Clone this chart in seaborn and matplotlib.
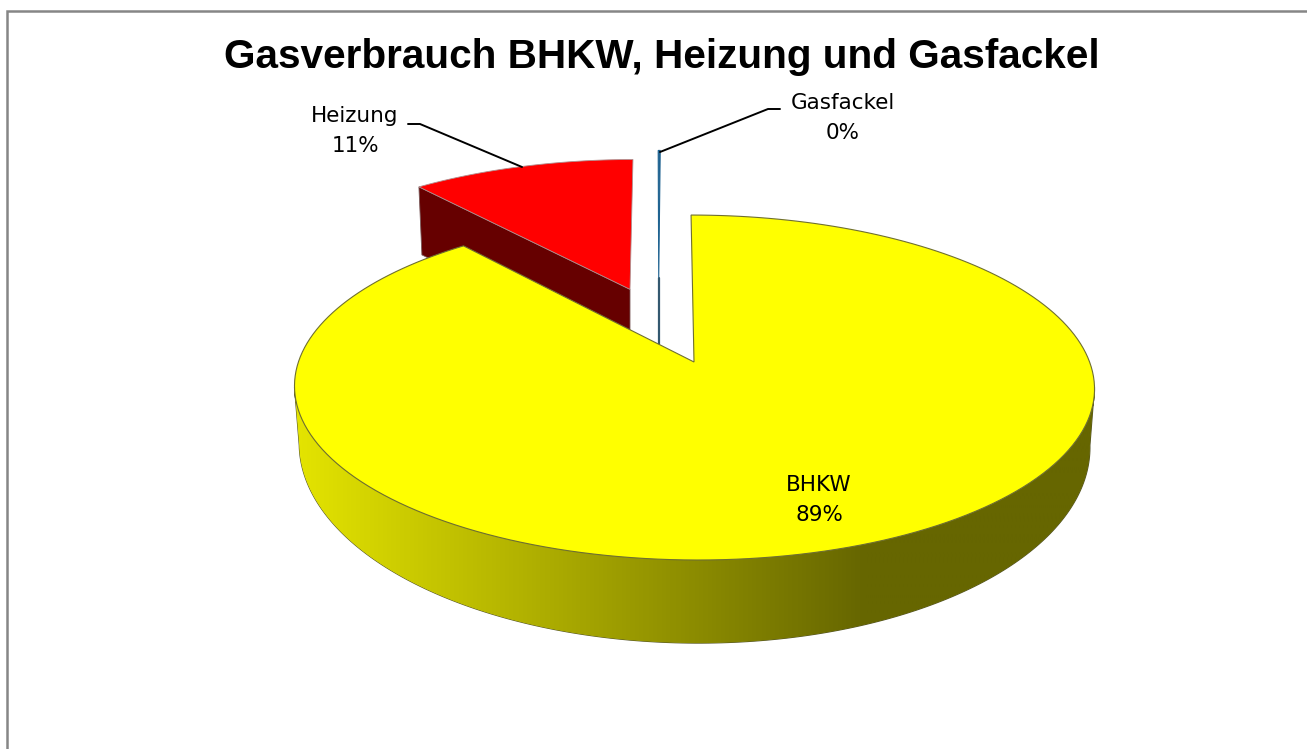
import numpy as np
import seaborn as sns
import matplotlib.pyplot as plt
from matplotlib.colors import LinearSegmentedColormap
from matplotlib.patches import Polygon

# Werte aus dem Bild gelesen
namen = ["BHKW", "Heizung", "Gasfackel"]
anteile = [88.9, 11.0, 0.1]
titel = "Gasverbrauch BHKW, Heizung und Gasfackel"

farben = ["#ffff00", "#ff0000", "#1f6391"]
wand_heizung = "#660000"
wand_fackel = "#33586f"
explode = [0, 0.49, 0.54]
versatz_x = [0, 0, -0.09]  # Gasfackel sitzt im Original weiter links

# Perspektive der Scheibe, alles in Pixeln
k = 0.148
schief = 0.02
oben = dict(cx=694, cy=362, a=395.6, b=168.7)
unten = dict(cx=694, cy=416, a=391, b=193.5)
tiefe_keil = 68


def projiziere(x, y, cx, cy, a, b):
    w = 1 + k * y
    py = cy - b * y / w
    px = cx + a * x / w + schief * (b * -y / w)
    return np.column_stack([px, py])


def bogen(keil, t1, t2, ebene, dx=0.0):
    t = np.radians(np.linspace(t1, t2, 200))
    x = keil.center[0] + dx + keil.r * np.cos(t)
    y = keil.center[1] + keil.r * np.sin(t)
    return projiziere(x, y, **ebene)


def keil_flaeche(keil, ebene, dx=0.0):
    rand = bogen(keil, keil.theta1, keil.theta2, ebene, dx)
    mitte = projiziere(np.array([keil.center[0] + dx]), np.array([keil.center[1]]), **ebene)
    return np.vstack([mitte, rand])


sns.set_theme(style="white")
plt.rcParams["font.family"] = ["DejaVu Sans"]
palette = sns.color_palette(farben)

fig, ax = plt.subplots(figsize=(13.07, 7.49), dpi=100)
fig.subplots_adjust(0, 0, 1, 1)

keile, _ = ax.pie(anteile, explode=explode, startangle=90, counterclock=False, radius=1)
geometrie = [(w.center, w.r, w.theta1, w.theta2) for w in keile]
ax.clear()
ax.set_aspect("auto")
ax.set_xlim(0, 1307)
ax.set_ylim(749, 0)
ax.axis("off")


class Keil:
    def __init__(self, center, r, theta1, theta2):
        self.center, self.r, self.theta1, self.theta2 = center, r, theta1, theta2


keile = [Keil(*g) for g in geometrie]
bhkw, heizung, fackel = keile

# Rahmen, nur oben und links sichtbar
ax.plot([6.5, 6.5, 1307], [749, 11, 11], color="#868686", lw=1.8, solid_joinstyle="miter", zorder=1)

# Gasfackel: Wand nach unten, dann Deckel
flaeche = keil_flaeche(fackel, oben, versatz_x[2])
spitze = flaeche[0]
ax.plot([spitze[0], spitze[0]], [spitze[1], spitze[1] + tiefe_keil], color=wand_fackel, lw=1.6, zorder=2)
ax.add_patch(Polygon(flaeche, closed=True, fc=palette[2], ec=palette[2], lw=0.8, zorder=2))

# Heizung: Innenwand, dann Deckel
flaeche = keil_flaeche(heizung, oben)
rand = flaeche[-1]
spitze = flaeche[0]
wand = np.array([rand, spitze, spitze + [0, tiefe_keil], rand + [3, tiefe_keil]])
ax.add_patch(Polygon(wand, closed=True, fc=wand_heizung, ec="#7a5a5a", lw=0.6, zorder=3))
ax.add_patch(Polygon(flaeche, closed=True, fc=palette[1], ec="#b09090", lw=0.6, zorder=4))

# BHKW: Aussenwand mit Verlauf
wand = np.vstack([bogen(bhkw, -171.5, -8.5, oben), bogen(bhkw, -8.5, -171.5, unten)])
verlauf = LinearSegmentedColormap.from_list("wand", ["#e4e400", "#666600"])
wand_patch = Polygon(wand, closed=True, fc="none", ec="#55552a", lw=0.8, zorder=5)
ax.add_patch(wand_patch)
gradient = np.clip(np.linspace(0, 1, 600) * 1.4, 0, 1)[None, :]
bild = ax.imshow(gradient, cmap=verlauf, extent=(295, 1095, 749, 0), aspect="auto", zorder=5)
bild.set_clip_path(wand_patch)
ax.set_xlim(0, 1307)
ax.set_ylim(749, 0)

# BHKW: Deckel
flaeche = keil_flaeche(bhkw, oben)
ax.add_patch(Polygon(flaeche, closed=True, fc=palette[0], ec="#6f6f30", lw=0.8, zorder=6))

# Fuehrungslinien
ax.plot([408, 420, 522], [124, 124, 167], color="black", lw=1.4, zorder=7)
ax.plot([660, 768, 780], [152, 109, 109], color="black", lw=1.4, zorder=7)

# Beschriftung
label_pos = [(819, 500), (355, 131), (843, 118)]
for name, wert, (x, y) in zip(namen, anteile, label_pos):
    ax.text(x, y, f"{name}\n{wert:.0f}%", ha="center", va="center", fontsize=15.5,
            color="black", linespacing=1.6, zorder=8)

ax.text(662, 57, titel, ha="center", va="center", fontsize=29.2, fontweight="bold",
        family=["Liberation Sans", "DejaVu Sans"], color="black", zorder=8)

plt.savefig("out.png", dpi=100)
plt.close()
